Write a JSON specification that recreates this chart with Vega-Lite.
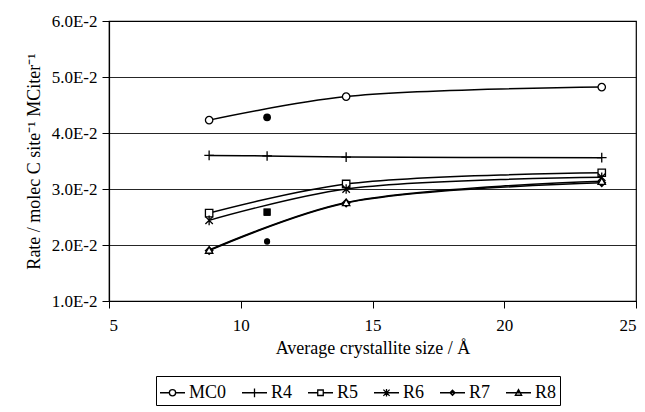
{
  "$schema": "https://vega.github.io/schema/vega-lite/v6.json",
  "width": 527,
  "height": 280,
  "autosize": {"type": "none"},
  "padding": {"left": 109, "top": 21, "right": 9, "bottom": 111},
  "background": "white",
  "config": {
    "font": "Liberation Serif",
    "view": {"stroke": "black", "strokeWidth": 1.2},
    "text": {"font": "Liberation Serif"},
    "axis": {"labelFont": "Liberation Serif", "titleFont": "Liberation Serif", "labelColor": "black", "titleColor": "black", "domainColor": "black", "tickColor": "black", "labelFontSize": 17, "titleFontSize": 18, "titleFontWeight": "normal"},
    "legend": {"labelFont": "Liberation Serif"}
  },
  "datasets": {
    "main": [
      {"s": "MC0", "x": 8.8, "y": 0.0423},
      {"s": "MC0", "x": 14, "y": 0.0465},
      {"s": "MC0", "x": 23.7, "y": 0.0482},
      {"s": "R4", "x": 8.8, "y": 0.0360},
      {"s": "R4", "x": 11, "y": 0.0359},
      {"s": "R4", "x": 14, "y": 0.0357},
      {"s": "R4", "x": 23.7, "y": 0.0356},
      {"s": "R5", "x": 8.8, "y": 0.0257},
      {"s": "R5", "x": 14, "y": 0.0309},
      {"s": "R5", "x": 23.7, "y": 0.0329},
      {"s": "R6", "x": 8.8, "y": 0.0244},
      {"s": "R6", "x": 14, "y": 0.0300},
      {"s": "R6", "x": 23.7, "y": 0.0321},
      {"s": "R7", "x": 8.8, "y": 0.0190},
      {"s": "R7", "x": 14, "y": 0.0275},
      {"s": "R7", "x": 23.7, "y": 0.0311},
      {"s": "R8", "x": 8.8, "y": 0.0191},
      {"s": "R8", "x": 14, "y": 0.0276},
      {"s": "R8", "x": 23.7, "y": 0.0314}
    ],
    "extra": [
      {"s": "MC0", "x": 11, "y": 0.0428},
      {"s": "R5", "x": 11, "y": 0.0259},
      {"s": "R6", "x": 11, "y": 0.0258},
      {"s": "R7", "x": 11, "y": 0.0206},
      {"s": "R8", "x": 11, "y": 0.0207}
    ]
  },
  "layer": [
    {
      "data": {"name": "main"},
      "mark": {"type": "line", "interpolate": "catmull-rom", "color": "black", "strokeWidth": 1.5},
      "encoding": {
        "x": {"field": "x", "type": "quantitative", "scale": {"domain": [5, 25], "nice": false, "zero": false},
          "axis": {"title": "Average crystallite size / Å", "values": [5, 10, 15, 20, 25], "grid": false, "tickSize": 7, "labelPadding": 9, "titlePadding": 6, "domainWidth": 1.2, "labelFont": "Liberation Serif", "titleFont": "Liberation Serif"}},
        "y": {"field": "y", "type": "quantitative", "scale": {"domain": [0.01, 0.06], "nice": false, "zero": false},
          "axis": {"title": "Rate / molec C site⁻¹ MCiter⁻¹", "values": [0.01, 0.02, 0.03, 0.04, 0.05, 0.06], "labelExpr": "format(datum.value*100, '.1f') + 'E-2'", "grid": true, "gridColor": "black", "gridWidth": 1, "gridOpacity": 0.85, "tickSize": 7, "labelPadding": 5, "titlePadding": 8, "domainWidth": 1.2, "labelFont": "Liberation Serif", "titleFont": "Liberation Serif"}},
        "detail": {"field": "s", "type": "nominal"}
      }
    },
    {
      "data": {"name": "main"},
      "mark": {"type": "point", "filled": true, "stroke": "black", "strokeWidth": 1.3, "opacity": 1},
      "encoding": {
        "x": {"field": "x", "type": "quantitative"},
        "y": {"field": "y", "type": "quantitative"},
        "shape": {"field": "s", "type": "nominal", "legend": null,
          "scale": {"domain": ["MC0", "R4", "R5", "R6", "R7", "R8"],
            "range": ["circle", "M-1.3,0H1.3M0,-1.3V1.3", "square", "M-1,-1L1,1M-1,1L1,-1M0,-1.3V1.3", "diamond", "triangle-up"]}},
        "fill": {"field": "s", "type": "nominal", "legend": null,
          "scale": {"domain": ["MC0", "R4", "R5", "R6", "R7", "R8"], "range": ["white", "black", "white", "black", "black", "white"]}},
        "size": {"value": 55}
      }
    },
    {
      "data": {"name": "extra"},
      "mark": {"type": "point", "filled": true, "color": "black", "opacity": 1},
      "encoding": {
        "x": {"field": "x", "type": "quantitative"},
        "y": {"field": "y", "type": "quantitative"},
        "shape": {"field": "s", "type": "nominal", "legend": null,
          "scale": {"domain": ["MC0", "R5", "R6", "R7", "R8"], "range": ["circle", "square", "square", "circle", "circle"]}},
        "size": {"field": "s", "type": "nominal", "legend": null,
          "scale": {"domain": ["MC0", "R5", "R6", "R7", "R8"], "range": [60, 30, 30, 30, 30]}}
      }
    },
    {
      "data": {"name": "main"},
      "mark": {"type": "point", "filled": false, "opacity": 0, "stroke": "black"},
      "encoding": {
        "x": {"field": "x", "type": "quantitative"},
        "y": {"field": "y", "type": "quantitative"},
        "shape": {"field": "s", "type": "nominal",
          "scale": {"domain": ["MC0", "R4", "R5", "R6", "R7", "R8"],
            "range": [
              "M-1,0H-0.25M0.25,0H1M-0.25,0A0.25,0.25 0 1,1 0.25,0A0.25,0.25 0 1,1 -0.25,0",
              "M-1,0H1M0,-0.35V0.35",
              "M-1,0H-0.22M0.22,0H1M-0.22,-0.22H0.22V0.22H-0.22Z",
              "M-1,0H1M-0.25,-0.25L0.25,0.25M-0.25,0.25L0.25,-0.25M0,-0.3V0.3",
              "M-1,0H1M0,-0.2L0.2,0L0,0.2L-0.2,0Z",
              "M-1,0H1M0,-0.25L0.25,0.2H-0.25Z"
            ]},
          "legend": {"title": null, "orient": "none", "legendX": 47, "legendY": 355, "direction": "horizontal", "columns": 6,
            "symbolSize": 625, "symbolStrokeWidth": 1.3, "symbolStrokeColor": "black", "symbolFillColor": "white", "symbolOpacity": 1,
            "labelFont": "Liberation Serif", "labelFontSize": 18, "labelColor": "black", "labelOffset": 3,
            "columnPadding": 12, "strokeColor": "black", "padding": 3, "offset": 0}
        }
      }
    }
  ],
  "resolve": {"scale": {"shape": "independent", "fill": "independent", "size": "independent"}}
}
